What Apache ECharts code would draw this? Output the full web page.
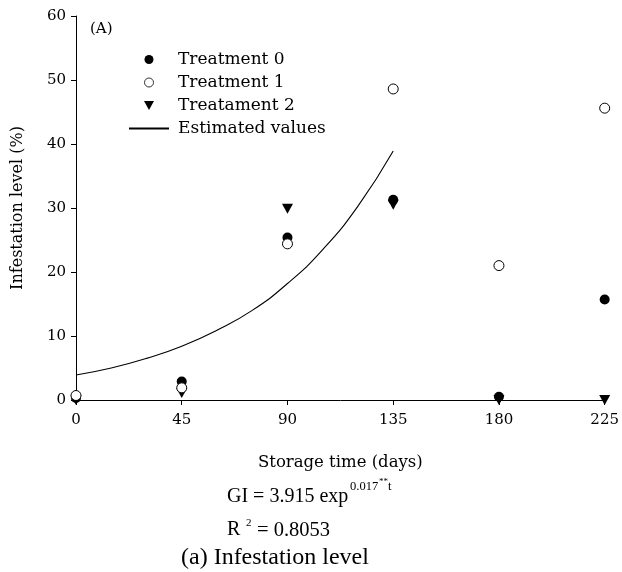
<!DOCTYPE html>
<html>
<head>
<meta charset="utf-8">
<script src="https://cdn.jsdelivr.net/npm/echarts@6/dist/echarts.min.js"></script>
<style>
  html, body { margin: 0; padding: 0; background: #fff; }
  #main { width: 622px; height: 572px; }
</style>
</head>
<body>
<div id="main"></div>
<script>
// storage time (days) and infestation level (%)
var days = [0, 45, 90, 135, 180, 225];
var treatment0 = [0.3, 2.9, 25.4, 31.3, 0.5, 15.7];
var treatment1 = [0.7, 1.9, 24.4, 48.6, 21.0, 45.6];
var treatment2 = [0, 1.1, 29.9, 30.5, 0, 0];
// fitted curve, points
var fitDays = [0, 15, 30, 45, 60, 75, 90, 105, 120, 135];
var fitValues = [3.9, 5.0, 6.5, 8.4, 10.9, 14.0, 18.2, 23.5, 30.3, 38.9];

var serif = 'DejaVu Serif';
var downTri = 'path://M0,0L10,0L5,9Z';

function pairs(xs, ys) {
  return xs.map(function (x, i) { return [x, ys[i]]; });
}

function txt(x, y, s, size) {
  return {
    type: 'text', left: x, top: y,
    style: { text: s, font: size + 'px "Liberation Serif"', fill: '#000' }
  };
}

var chartDom = document.getElementById('main');
var myChart = echarts.init(chartDom);
var option;

option = {
  backgroundColor: '#fff',
  animation: false,
  grid: { left: 76, right: 15, top: 16, bottom: 172 },
  legend: {
    orient: 'vertical',
    left: 123,
    top: 46,
    itemWidth: 40,
    itemHeight: 9,
    itemGap: 6,
    textStyle: { fontFamily: serif, fontSize: 17, color: '#000', padding: [0, 0, 0, 4] },
    data: [
      'Treatment 0',
      { name: 'Treatment 1', itemStyle: { borderWidth: 0.8 } },
      'Treatament 2',
      { name: 'Estimated values', itemStyle: { opacity: 0, color: 'rgba(0,0,0,0)', borderWidth: 0 } }
    ]
  },
  xAxis: {
    type: 'value',
    min: 0,
    max: 225,
    interval: 45,
    name: 'Storage time (days)',
    nameLocation: 'middle',
    nameGap: 54,
    nameTextStyle: { fontFamily: serif, fontSize: 16.5, color: '#000' },
    axisLine: { lineStyle: { color: '#000', width: 1 } },
    axisTick: { length: 5, lineStyle: { color: '#000' } },
    axisLabel: { fontFamily: serif, fontSize: 15, color: '#000', margin: 13 },
    splitLine: { show: false }
  },
  yAxis: {
    type: 'value',
    min: 0,
    max: 60,
    interval: 10,
    name: 'Infestation level (%)',
    nameLocation: 'middle',
    nameGap: 50,
    nameTextStyle: { fontFamily: serif, fontSize: 16, color: '#000' },
    axisLine: { show: true, lineStyle: { color: '#000', width: 1 } },
    axisTick: { show: true, length: 5, lineStyle: { color: '#000' } },
    axisLabel: { fontFamily: serif, fontSize: 15, color: '#000', margin: 10 },
    splitLine: { show: false }
  },
  graphic: [
    { type: 'text', left: 90, top: 22,
      style: { text: '(A)', font: '15px "DejaVu Serif"', fill: '#000' } },
    txt(227, 487, 'GI = 3.915 exp', 20),
    txt(350, 480, '0.017', 12.5),
    txt(379, 477, '**', 9),
    txt(388, 480, 't', 12.5),
    txt(227, 520, 'R', 20),
    txt(246, 518, '2', 11),
    txt(257, 520, '= 0.8053', 20.5),
    txt(181, 546, '(a) Infestation level', 24)
  ],
  series: [
    {
      name: 'Estimated values',
      type: 'line',
      smooth: true,
      symbol: 'none',
      lineStyle: { color: '#000', width: 1.1 },
      itemStyle: { color: '#000' },
      data: pairs(fitDays, fitValues),
      z: 1
    },
    {
      name: 'Treatment 0',
      type: 'scatter',
      symbol: 'circle',
      symbolSize: 10,
      clip: false,
      itemStyle: { color: '#000', opacity: 1 },
      data: pairs(days, treatment0),
      z: 2
    },
    {
      name: 'Treatment 1',
      type: 'scatter',
      symbol: 'circle',
      symbolSize: 10,
      clip: false,
      itemStyle: { color: '#fff', borderColor: '#000', borderWidth: 1, opacity: 1 },
      data: pairs(days, treatment1),
      z: 3
    },
    {
      name: 'Treatament 2',
      type: 'scatter',
      symbol: downTri,
      symbolSize: [11, 10],
      clip: false,
      itemStyle: { color: '#000', opacity: 1 },
      data: pairs(days, treatment2),
      z: 2
    }
  ]
};

option && myChart.setOption(option);
</script>
</body>
</html>
